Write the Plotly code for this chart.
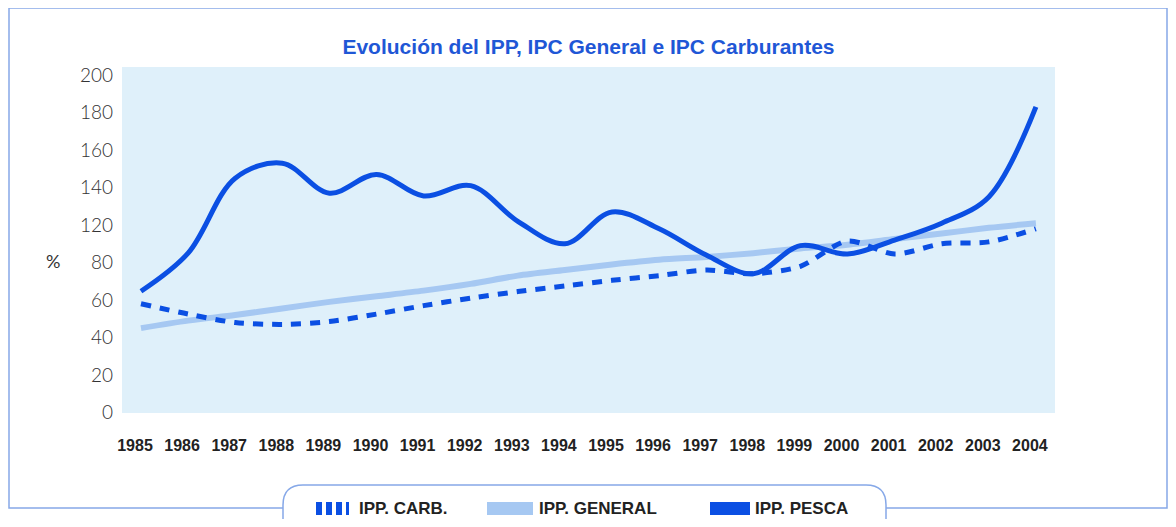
import plotly.graph_objects as go

# years on the x axis
years = list(range(1985, 2005))

# values (in axis units, see tick labels below)
ipp_carb = [58, 52.5, 48, 47, 48.5, 52.5, 57, 61, 64.5, 67.5, 70.5, 73, 76, 74, 78, 91.5, 84.5, 90, 91, 98]
ipp_general = [45, 49, 52, 55.5, 59, 62, 65, 68.6, 73, 76, 79, 81.5, 83, 85, 87.5, 89.5, 92.5, 95.5, 98.5, 101]
ipp_pesca = [64.7, 85, 125, 133, 117, 127, 115.5, 121, 102, 90, 107, 98, 84, 74, 89, 84.5, 92, 101, 115, 163]

# the printed axis skips "100", so labels are set by hand on evenly spaced ticks
y_tickvals = [0, 20, 40, 60, 80, 100, 120, 140, 160, 180]
y_ticktext = ["0", "20", "40", "60", "80", "120", "140", "160", "180", "200"]

series_names = ["IPP. CARB.", "IPP. GENERAL", "IPP. PESCA"]

DARK = "#0b4fe3"
LIGHT = "#a6c8f2"
FRAME = "#86a8e8"

# page has an 8px body margin, keep the figure inside the window so nothing scrolls
OFF = 8
W, H = 1176 - 2 * OFF, 527 - 2 * OFF
# plot area in page pixels
L, R, T, B = 122, 1055, 67, 413


def px(x):
    return (x - L) / (R - L)


def py(y):
    return (B - y) / (B - T)


fig = go.Figure()

fig.add_trace(go.Scatter(x=years, y=ipp_general, name=series_names[1], mode="lines",
                         line=dict(color=LIGHT, width=6, shape="spline", smoothing=0.8)))
fig.add_trace(go.Scatter(x=years, y=ipp_carb, name=series_names[0], mode="lines",
                         line=dict(color=DARK, width=5, shape="spline", smoothing=0.8, dash="10px,9px")))
fig.add_trace(go.Scatter(x=years, y=ipp_pesca, name=series_names[2], mode="lines",
                         line=dict(color=DARK, width=5, shape="spline", smoothing=1)))

# outer frame and rounded legend box
frame_path = "M {} {} L {} {} L {} {} L {} {} L {} {} L {} {}".format(
    px(283), py(508), px(9), py(508), px(9), py(8), px(1167), py(8), px(1167), py(508), px(886), py(508))
r = 20
box_path = "M {} {} L {} {} Q {} {} {} {} L {} {} Q {} {} {} {} L {} {}".format(
    px(283), py(540), px(283), py(485 + r), px(283), py(485), px(283 + r), py(485),
    px(886 - r), py(485), px(886), py(485), px(886), py(485 + r), px(886), py(540))
shapes = [
    dict(type="path", xref="paper", yref="paper", path=frame_path, line=dict(color=FRAME, width=1.5)),
    dict(type="path", xref="paper", yref="paper", path=box_path, line=dict(color=FRAME, width=1.5)),
]

# legend markers
for x0, x1 in [(316, 322), (326, 332), (336, 342), (346, 349)]:
    shapes.append(dict(type="rect", xref="paper", yref="paper", x0=px(x0), x1=px(x1),
                       y0=py(515), y1=py(502), fillcolor=DARK, line=dict(width=0)))
shapes.append(dict(type="rect", xref="paper", yref="paper", x0=px(487), x1=px(533),
                   y0=py(515), y1=py(502), fillcolor=LIGHT, line=dict(width=0)))
shapes.append(dict(type="rect", xref="paper", yref="paper", x0=px(710), x1=px(750),
                   y0=py(515), y1=py(502), fillcolor=DARK, line=dict(width=0)))

legend_font = dict(family="Liberation Sans", size=17, color="#222222", weight="bold")
annotations = []
for name, x in zip(series_names, [357, 537, 753]):
    annotations.append(dict(text=name, xref="paper", yref="paper", x=px(x), y=py(508),
                            xanchor="left", yanchor="middle", showarrow=False, font=legend_font))

annotations.append(dict(text="%", xref="paper", yref="paper", x=px(53), y=py(261),
                        xanchor="center", yanchor="middle", showarrow=False,
                        font=dict(family="Lato, Liberation Sans", size=18, color="#333333")))

fig.update_layout(
    width=W, height=H,
    margin=dict(l=L - OFF, r=(1176 - OFF) - R, t=T - OFF, b=(527 - OFF) - B),
    paper_bgcolor="white",
    plot_bgcolor="#dff0fa",
    showlegend=False,
    title=dict(text="<b>Evolución del IPP, IPC General e IPC Carburantes</b>",
               x=0.5, xref="paper", xanchor="center",
               y=1 - (47 - OFF) / H, yref="container", yanchor="middle",
               font=dict(family="Liberation Sans", size=21, color="#1f57d6")),
    shapes=shapes,
    annotations=annotations,
)

fig.update_xaxes(
    range=[1984.597, 2004.405],
    tickvals=years,
    ticktext=["<b>%d</b>" % y for y in years],
    tickfont=dict(family="Liberation Sans", size=16, color="#222222"),
    ticklabelshift=-6,
    ticklabelstandoff=21,
    showgrid=False, zeroline=False, showline=False, ticks="",
)

fig.update_yaxes(
    range=[-0.27, 184.3],
    tickvals=y_tickvals,
    ticktext=y_ticktext,
    tickfont=dict(family="Lato, Liberation Sans", size=19, color="#333333", weight=300),
    ticklabelstandoff=8,
    showgrid=False, zeroline=False, showline=False, ticks="",
)

fig.write_html("out.html")
